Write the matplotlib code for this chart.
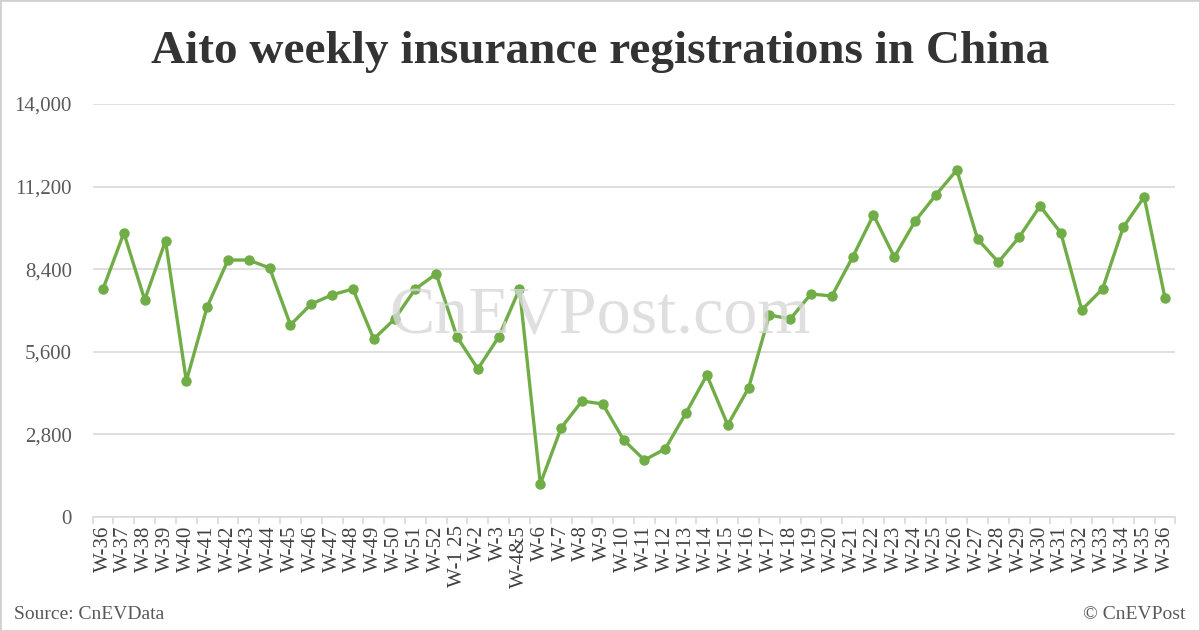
import matplotlib
matplotlib.use("Agg")
import matplotlib.pyplot as plt
from matplotlib.ticker import FixedLocator, FuncFormatter
from matplotlib.patches import Rectangle

weeks = ["W-36", "W-37", "W-38", "W-39", "W-40", "W-41", "W-42", "W-43", "W-44",
         "W-45", "W-46", "W-47", "W-48", "W-49", "W-50", "W-51", "W-52",
         "W-1 25", "W-2", "W-3", "W-4&5",
         "W-6", "W-7", "W-8", "W-9", "W-10", "W-11", "W-12", "W-13", "W-14", "W-15",
         "W-16", "W-17", "W-18", "W-19", "W-20", "W-21", "W-22", "W-23", "W-24",
         "W-25", "W-26", "W-27", "W-28", "W-29", "W-30", "W-31", "W-32", "W-33",
         "W-34", "W-35", "W-36"]
registrations = [7730, 9630, 7360, 9360, 4610, 7120, 8710, 8710, 8440,
                 6510, 7220, 7530, 7730, 6030, 6710, 7730, 8240,
                 6100, 5020, 6100, 7730,
                 1120, 3020, 3930, 3830, 2610, 1930, 2310, 3530, 4810, 3120,
                 4370, 6850, 6710, 7560, 7490, 8810, 10240, 8810, 10030,
                 10920, 11760, 9420, 8640, 9490, 10540, 9630, 7020, 7730,
                 9830, 10850, 7420]
yticks = [0, 2800, 5600, 8400, 11200, 14000]

serif = ["Liberation Serif", "DejaVu Serif"]
green = "#70AD47"
grid_c = "#d9d9d9"
txt_c = "#595959"

fig = plt.figure(figsize=(12, 6.31), dpi=100)
fig.patches.append(Rectangle((0, 0), 1, 1, transform=fig.transFigure,
                             fill=False, edgecolor="#d0d0d0", linewidth=2))

ax = fig.add_axes([0.0772, 0.1807, 0.9023, 0.6545])
x = list(range(len(weeks)))
ax.plot(x, registrations, color=green, linewidth=2.4, marker="o",
        markersize=6.5, markerfacecolor=green, markeredgecolor=green, zorder=3)

ax.set_xlim(-0.5, len(weeks) - 0.5)
ax.set_ylim(0, 14000)
ax.yaxis.set_major_locator(FixedLocator(yticks))
ax.yaxis.set_major_formatter(FuncFormatter(lambda v, p: f"{int(v):,}"))
ax.grid(axis="y", color=grid_c, linewidth=1.2)
ax.set_axisbelow(True)
for s in ["top", "right", "left"]:
    ax.spines[s].set_visible(False)
ax.spines["bottom"].set_color(grid_c)
ax.spines["bottom"].set_linewidth(1.2)
ax.tick_params(axis="y", length=0, pad=15, labelsize=15, labelcolor=txt_c)

ax.set_xticks(x)
ax.set_xticklabels(weeks, rotation=90, fontsize=15, color="#404040",
                   fontfamily=serif)
ax.tick_params(axis="x", which="major", length=0, pad=6)
ax.set_xticks([i - 0.5 for i in range(len(weeks) + 1)], minor=True)
ax.tick_params(axis="x", which="minor", length=5, color=grid_c, width=1.2)
for lab in ax.get_yticklabels():
    lab.set_fontfamily(serif)

fig.text(0.5, 0.900, "Aito weekly insurance registrations in China",
         ha="center", va="baseline", fontsize=34, fontweight="bold",
         color="#333333", fontfamily=serif)
fig.text(0.5, 0.497, "CnEVPost.com", ha="center", va="center", fontsize=49,
         color="#d8d8d8", alpha=0.8, fontfamily=serif, zorder=0)
fig.text(0.012, 0.013, "Source: CnEVData", ha="left", va="bottom",
         fontsize=14, color=txt_c, fontfamily=serif)
fig.text(0.988, 0.013, "© CnEVPost", ha="right", va="bottom",
         fontsize=14, color=txt_c, fontfamily=serif)

fig.savefig("out.png", dpi=100)
